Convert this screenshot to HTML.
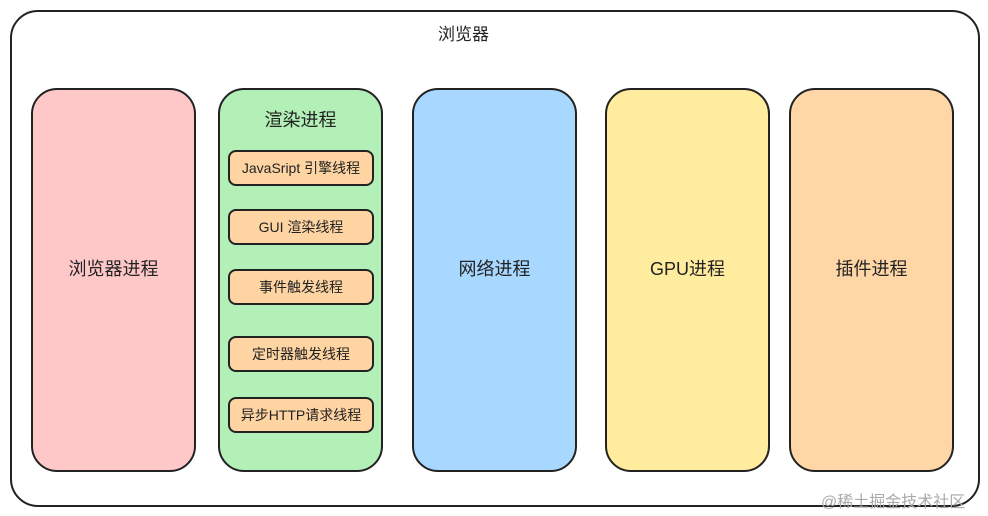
<!DOCTYPE html>
<html><head><meta charset="utf-8"><style>
body{margin:0;width:988px;height:516px;background:#fff;position:relative;overflow:hidden;font-family:"Liberation Sans","Noto Sans CJK SC",sans-serif;color:#222}
.b{position:absolute;box-sizing:border-box;border:2px solid #222;display:flex;align-items:center;justify-content:center;}
.big{padding-bottom:24px}
.t{position:absolute;font-size:14px;}
</style></head><body>
<div class="b" style="left:10px;top:10px;width:970px;height:497px;border-radius:28px;"></div>
<div class="t" style="left:438px;top:20px;font-size:17px">浏览器</div>
<div class="b big" style="left:31px;top:88px;width:165px;height:384px;border-radius:26px;background:#ffc8c8;font-size:18px">浏览器进程</div>
<div class="b" style="left:218px;top:88px;width:165px;height:384px;border-radius:26px;background:#b3f0b8;align-items:flex-start;padding-top:16px;font-size:18px">渲染进程</div>
<div class="b" style="left:228px;top:150px;width:146px;height:36px;border-radius:8px;background:#ffd4a3;font-size:14px">JavaSript 引擎线程</div>
<div class="b" style="left:228px;top:209px;width:146px;height:36px;border-radius:8px;background:#ffd4a3;font-size:14px">GUI 渲染线程</div>
<div class="b" style="left:228px;top:269px;width:146px;height:36px;border-radius:8px;background:#ffd4a3;font-size:14px">事件触发线程</div>
<div class="b" style="left:228px;top:336px;width:146px;height:36px;border-radius:8px;background:#ffd4a3;font-size:14px">定时器触发线程</div>
<div class="b" style="left:228px;top:397px;width:146px;height:36px;border-radius:8px;background:#ffd4a3;font-size:14px">异步HTTP请求线程</div>
<div class="b big" style="left:412px;top:88px;width:165px;height:384px;border-radius:26px;background:#a8d8ff;font-size:18px">网络进程</div>
<div class="b big" style="left:605px;top:88px;width:165px;height:384px;border-radius:26px;background:#ffec9e;font-size:18px">GPU进程</div>
<div class="b big" style="left:789px;top:88px;width:165px;height:384px;border-radius:26px;background:#ffd6a6;font-size:18px">插件进程</div>
<div class="t" style="left:821px;top:488px;font-size:16px;color:#aaa">@稀土掘金技术社区</div>
</body></html>
